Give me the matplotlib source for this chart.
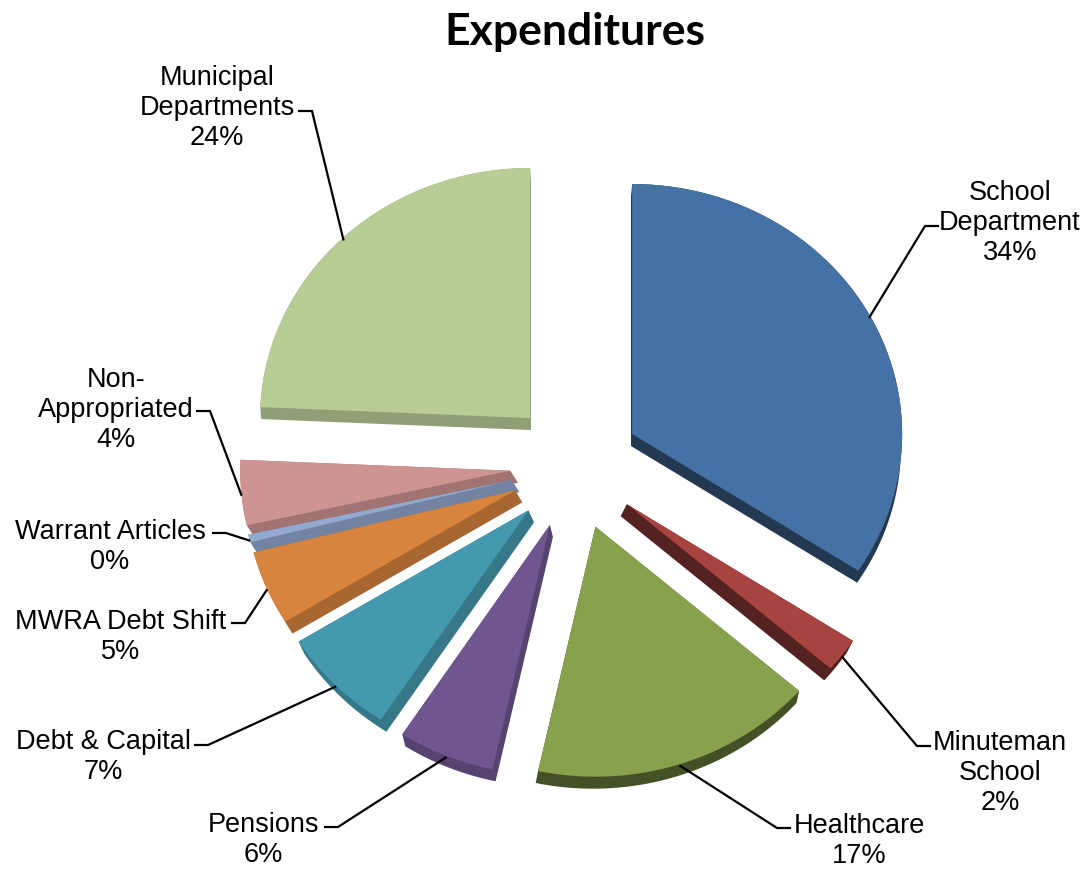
import numpy as np
import matplotlib.pyplot as plt
from matplotlib.patches import Polygon
from matplotlib.colors import to_rgb

# budget shares, clockwise from 12 o'clock
categories = ['School\nDepartment', 'Minuteman\nSchool', 'Healthcare', 'Pensions',
              'Debt & Capital', 'MWRA Debt Shift', 'Warrant Articles',
              'Non-\nAppropriated', 'Municipal\nDepartments']
shares = [34.2, 2.2, 17.0, 5.8, 7.0, 4.8, 0.49, 4.2, 24.3]
colors = ['#4571A4', '#A8443F', '#87A14C', '#70568F', '#4599AE',
          '#D8843F', '#93A9D0', '#CF9492', '#B8CC96']

# label placement: text centre, start of leader line, direction of elbow
label_xy = [(1010, 223), (1000, 773), (859, 841), (263, 840), (103, 757),
            (121, 637), (110, 547), (116, 410), (217, 108)]
leader_start = [(938, 226), (930, 746), (790, 828), (325, 827), (195, 745),
                (232, 623), (213, 533), (197, 411), (299, 111)]
elbow_dir = [-1, -1, -1, 1, 1, 1, 1, 1, 1]

# pie geometry in pixel units (y grows downward)
cx, cy = 575, 465
rx, ry = 270, 250
explode = 65
depth = 12


def hull(pts):
    pts = sorted(map(tuple, pts))
    def cross(o, a, b):
        return (a[0]-o[0])*(b[1]-o[1]) - (a[1]-o[1])*(b[0]-o[0])
    lower, upper = [], []
    for p in pts:
        while len(lower) >= 2 and cross(lower[-2], lower[-1], p) <= 0:
            lower.pop()
        lower.append(p)
    for p in reversed(pts):
        while len(upper) >= 2 and cross(upper[-2], upper[-1], p) <= 0:
            upper.pop()
        upper.append(p)
    return np.array(lower[:-1] + upper[:-1])


fig = plt.figure(figsize=(10.89, 8.69), dpi=100)
ax = fig.add_axes([0, 0, 1, 1])
ax.set_xlim(0, 1089)
ax.set_ylim(869, 0)
ax.axis('off')

total = sum(shares)
angles = 90 - 360 * np.cumsum([0] + shares) / total

slices = []
for i, share in enumerate(shares):
    a0, a1 = angles[i], angles[i + 1]
    mid = np.radians((a0 + a1) / 2)
    ox = cx + explode * np.cos(mid)
    oy = cy - explode * np.sin(mid)
    th = np.radians(np.linspace(a0, a1, 60))
    top = np.vstack([[ox, oy],
                     np.column_stack([ox + rx * np.cos(th), oy - ry * np.sin(th)])])
    # lower slices lean toward the middle, as seen in perspective
    lean = 0.12 if oy > cy else 0.02
    shift = np.array([-(ox - cx) * lean, depth])
    side = hull(np.vstack([top, top + shift]))
    shade = 0.5 if ox > cx else 0.78
    anchor = (ox + rx * np.cos(mid), oy - ry * np.sin(mid) + 2)
    slices.append((oy, top, side, colors[i], shade, anchor))

# paint back to front
for oy, top, side, col, shade, anchor in sorted(slices, key=lambda s: s[0]):
    dark = np.array(to_rgb(col)) * shade
    ax.add_patch(Polygon(side, closed=True, facecolor=dark, edgecolor='none'))
    ax.add_patch(Polygon(top, closed=True, facecolor=col, edgecolor='none'))

for i, name in enumerate(categories):
    anchor = slices[i][5]
    sx, sy = leader_start[i]
    ex = sx + 13 * elbow_dir[i]
    ax.plot([sx, ex, anchor[0]], [sy, sy, anchor[1]], color='black', lw=1.6,
            solid_joinstyle='miter')
    ax.text(label_xy[i][0], label_xy[i][1], f'{name}\n{round(shares[i])}%',
            ha='center', va='center', fontsize=19.5, family='Liberation Sans',
            linespacing=1.2)

ax.text(575, 32, 'Expenditures', ha='center', va='center', fontsize=32,
        fontweight='bold', family='Lato')

fig.savefig('out.png', dpi=100)
